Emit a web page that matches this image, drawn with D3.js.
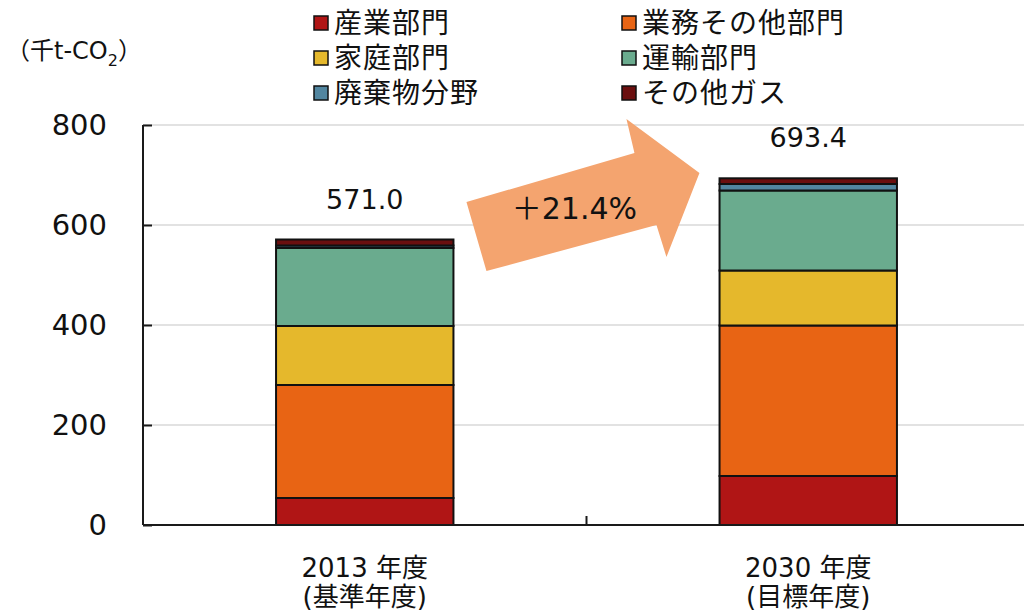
<!DOCTYPE html>
<html>
<head>
<meta charset="utf-8">
<script src="https://cdn.jsdelivr.net/npm/d3@7"></script>
<style>
  body { margin: 0; background: #fff; }
  text { font-family: "DejaVu Sans", "Noto Sans CJK JP", sans-serif; fill: #111; }
  .cjk { font-family: "Noto Sans CJK JP", sans-serif; }
</style>
</head>
<body>
<div id="chart"></div>
<script>
// data
const years = ['2013', '2030'];
const yearLabels = [['2013 年度', '(基準年度)'], ['2030 年度', '(目標年度)']];
const sectors = ['産業部門', '業務その他部門', '家庭部門', '運輸部門', '廃棄物分野', 'その他ガス'];
const sectorColors = ['#b01515', '#e86414', '#e5b82c', '#6aab8e', '#5286a0', '#6b0f0f'];
const values2013 = [54, 226, 118, 156, 5, 12];
const values2030 = [98, 301, 110, 160, 13, 11.4];
const totals = [571.0, 693.4];
const yTicks = [0, 200, 400, 600, 800];
const growthLabel = '＋21.4%';

const width = 1024, height = 615;
const margin = {top: 125, left: 143, bottom: 90};
const plotRight = 1030;

const svg = d3.select('#chart').append('svg')
  .attr('width', width)
  .attr('height', height);

const y = d3.scaleLinear().domain([0, 800]).range([height - margin.bottom, margin.top]);
const x = d3.scaleBand().domain(years).range([margin.left, plotRight])
  .paddingInner(0.6).paddingOuter(0.3);

// gridlines
svg.append('g').selectAll('line')
  .data(yTicks.filter(d => d > 0))
  .join('line')
  .attr('x1', margin.left).attr('x2', width)
  .attr('y1', d => y(d)).attr('y2', d => y(d))
  .attr('stroke', '#d9d9d9').attr('stroke-width', 1.5);

// stacked bars
const rows = years.map((yr, i) => {
  const vals = i === 0 ? values2013 : values2030;
  const row = {year: yr};
  sectors.forEach((s, j) => row[s] = vals[j]);
  return row;
});
const stack = d3.stack().keys(sectors)(rows);
const color = d3.scaleOrdinal().domain(sectors).range(sectorColors);

svg.append('g').selectAll('g')
  .data(stack)
  .join('g')
  .attr('fill', d => color(d.key))
  .selectAll('rect')
  .data(d => d)
  .join('rect')
  .attr('x', d => x(d.data.year))
  .attr('width', x.bandwidth())
  .attr('y', d => y(d[1]))
  .attr('height', d => y(d[0]) - y(d[1]))
  .attr('stroke', '#111')
  .attr('stroke-width', 2);

// axes
const yAxis = svg.append('g')
  .attr('transform', `translate(${margin.left},0)`)
  .call(d3.axisRight(y).tickValues(yTicks).tickSize(9).tickFormat(''));
yAxis.select('.domain').attr('stroke', '#1a1a1a').attr('stroke-width', 2).attr('d', `M0,${y(800)}V${y(0)}`);
yAxis.selectAll('.tick line').attr('stroke', '#1a1a1a').attr('stroke-width', 2);

svg.append('g').selectAll('text')
  .data(yTicks)
  .join('text')
  .attr('x', 107).attr('y', d => y(d))
  .attr('dy', '0.36em')
  .attr('text-anchor', 'end')
  .attr('font-size', 29)
  .text(d => d);

const xAxisY = y(0);
svg.append('line')
  .attr('x1', margin.left).attr('x2', width)
  .attr('y1', xAxisY).attr('y2', xAxisY)
  .attr('stroke', '#1a1a1a').attr('stroke-width', 2);
// category divider tick
const midX = (x(years[0]) + x.bandwidth() + x(years[1])) / 2;
svg.append('line')
  .attr('x1', midX).attr('x2', midX)
  .attr('y1', xAxisY).attr('y2', xAxisY - 9)
  .attr('stroke', '#1a1a1a').attr('stroke-width', 2);

// category labels
yearLabels.forEach((lines, i) => {
  const cx = x(years[i]) + x.bandwidth() / 2;
  svg.append('text')
    .attr('x', cx).attr('y', 577)
    .attr('text-anchor', 'middle').attr('font-size', 26)
    .text(lines[0]);
  svg.append('text')
    .attr('x', cx).attr('y', 606)
    .attr('text-anchor', 'middle').attr('font-size', 26)
    .text(lines[1]);
});

// totals
svg.append('g').selectAll('text')
  .data(totals)
  .join('text')
  .attr('x', (d, i) => x(years[i]) + x.bandwidth() / 2)
  .attr('y', d => y(d) - 31)
  .attr('text-anchor', 'middle')
  .attr('font-size', 27)
  .text(d => d.toFixed(1));

// y axis unit
const unit = svg.append('text').attr('x', 6).attr('y', 59).attr('font-size', 24);
unit.append('tspan').text('（千t-CO');
unit.append('tspan').attr('font-size', 16).attr('dy', 7).text('2');
unit.append('tspan').attr('dy', -7).text('）');

// growth arrow (local shape, placed between bars)
const arrowPts = [[0, 83], [168, 34], [160, 0], [233, 54], [200, 138], [190, 106], [20, 152]];
const ax = x(years[0]) + x.bandwidth() + 13, ay = y(800) - 6;
svg.append('polygon')
  .attr('points', arrowPts.map(p => [p[0] + ax, p[1] + ay].join(',')).join(' '))
  .attr('fill', '#f4a46f');
svg.append('text')
  .attr('x', ax + 108).attr('y', ay + 100)
  .attr('text-anchor', 'middle')
  .attr('font-size', 30)
  .text(growthLabel);

// legend
const legend = svg.append('g');
const legendItems = legend.selectAll('g')
  .data(sectors)
  .join('g')
  .attr('transform', (d, i) => `translate(${i % 2 === 0 ? 314 : 622},${23 + Math.floor(i / 2) * 35})`);
legendItems.append('rect')
  .attr('x', 0).attr('y', -7).attr('width', 14).attr('height', 14)
  .attr('fill', d => color(d))
  .attr('stroke', '#111').attr('stroke-width', 1.5);
legendItems.append('text')
  .attr('class', 'cjk')
  .attr('x', 20).attr('dy', '0.36em')
  .attr('font-size', 28)
  .attr('letter-spacing', 1)
  .text(d => d);
</script>
</body>
</html>
